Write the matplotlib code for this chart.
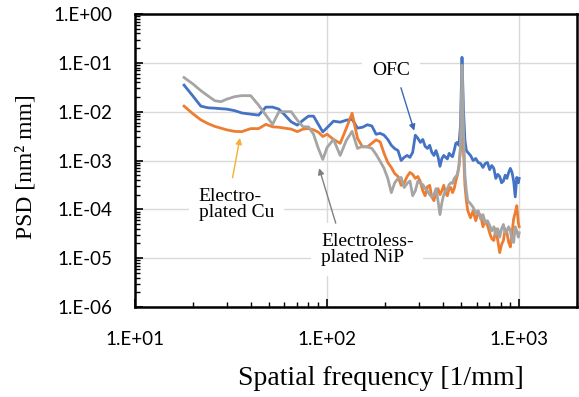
import math
import matplotlib
matplotlib.use("Agg")
import matplotlib.pyplot as plt
from matplotlib.ticker import LogLocator, FuncFormatter, NullFormatter

# spatial frequency [1/mm]
freq = [18, 20, 22, 24, 26, 28, 30, 33, 36, 40, 44, 48, 52, 56, 60, 65, 70, 75, 80, 85, 90, 95, 100,
        108, 117, 126, 135, 144, 153, 162, 171, 180, 189, 198, 207, 216, 225, 234, 243, 252, 261, 270,
        279, 288, 297, 306, 315, 324, 333, 342, 351, 360, 369, 378, 387, 396, 405, 414, 423, 432, 441,
        450, 459, 468, 477, 486, 495, 504, 513, 522, 531, 540, 558, 576, 594, 612, 630, 648, 666, 684,
        702, 720, 738, 756, 774, 792, 810, 828, 846, 864, 882, 900, 918, 936, 954, 972, 990, 1000]

# PSD [nm^2 mm]
psd_ofc = [3.5e-2, 2.1e-2, 1.3e-2, 1.2e-2, 1.18e-2, 1.15e-2, 1.13e-2, 1.05e-2, 9.4e-3, 8.9e-3, 8.5e-3,
           1.24e-2, 1.24e-2, 1.13e-2, 8.7e-3, 6.2e-3, 5.3e-3, 6.7e-3, 8.1e-3, 8.1e-3, 5.5e-3, 3.85e-3, 4.7e-3,
           6.4e-3, 6.1e-3, 6.7e-3, 7.0e-3, 4.6e-3, 4.8e-3, 5.4e-3, 5.1e-3, 3.45e-3, 3.6e-3, 3.3e-3, 2.7e-3,
           2.05e-3, 1.75e-3, 1.6e-3, 1.0e-3, 1.16e-3, 1.27e-3, 1.16e-3, 1.47e-3, 3.3e-3, 2.85e-3, 2.35e-3,
           2.7e-3, 1.95e-3, 1.77e-3, 2.05e-3, 1.47e-3, 1.27e-3, 1.6e-3, 1.2e-3, 7.6e-4, 1.1e-3, 1.27e-3,
           1.16e-3, 1.08e-3, 1.4e-3, 1.27e-3, 1.2e-3, 1.6e-3, 2.25e-3, 2.35e-3, 2.05e-3, 5.3e-3, 1.3e-1,
           1.07e-2, 2.6e-3, 1.6e-3, 1.47e-3, 1.27e-3, 1.0e-3, 1.1e-3, 9.1e-4, 8.7e-4, 7.2e-4, 8.7e-4, 9.1e-4,
           6.5e-4, 7.9e-4, 6.9e-4, 4.3e-4, 5.2e-4, 4.7e-4, 3.5e-4, 3.8e-4, 5.0e-4, 4.3e-4, 5.7e-4, 6.9e-4,
           5.7e-4, 3.8e-4, 1.8e-4, 4.5e-4, 3.5e-4, 4.3e-4]

psd_cu = [1.3e-2, 9.1e-3, 6.8e-3, 5.7e-3, 5.0e-3, 4.6e-3, 4.25e-3, 3.95e-3, 3.9e-3, 4.5e-3, 4.5e-3,
          5.5e-3, 4.9e-3, 4.8e-3, 4.6e-3, 4.4e-3, 3.9e-3, 4.4e-3, 4.5e-3, 4.25e-3, 3.8e-3, 3.1e-3, 3.45e-3,
          2.7e-3, 2.25e-3, 4.6e-3, 9.3e-3, 2.85e-3, 1.9e-3, 1.9e-3, 2.25e-3, 2.65e-3, 2.4e-3, 1.4e-3, 9.1e-4,
          7.2e-4, 5.4e-4, 4.7e-4, 3.1e-4, 3.5e-4, 4.7e-4, 5.7e-4, 5.2e-4, 4.3e-4, 4.7e-4, 3.7e-4,
          2.4e-4, 1.9e-4, 2.9e-4, 3.1e-4, 1.8e-4, 1.5e-4, 2.4e-4, 2.65e-4, 2.0e-4, 2.4e-4, 3.1e-4,
          2.1e-4, 1.9e-4, 2.65e-4, 2.8e-4, 2.2e-4, 2.65e-4, 3.8e-4, 5.0e-4, 7.9e-4, 1.6e-3, 2.8e-2,
          1.6e-3, 3.1e-4, 1.5e-4, 9.4e-5, 6.7e-5, 9.4e-5, 5.85e-5, 8.5e-5, 7.6e-5, 4.4e-5, 5.85e-5, 4.7e-5,
          3.3e-5, 2.5e-5, 2.3e-5, 4.0e-5, 2.3e-5, 1.3e-5, 1.9e-5, 2.3e-5, 4.0e-5, 3.3e-5, 2.1e-5, 1.7e-5,
          3.3e-5, 6.4e-5, 8.5e-5, 1.19e-4, 5.3e-5, 4.4e-5]

psd_nip = [5.0e-2, 3.7e-2, 2.7e-2, 2.1e-2, 1.68e-2, 1.6e-2, 1.8e-2, 2.03e-2, 2.13e-2, 2.13e-2, 1.36e-2,
           8.5e-3, 5.5e-3, 9.8e-3, 1.0e-2, 1.0e-2, 6.7e-3, 4.9e-3, 4.9e-3, 3.45e-3, 1.77e-3, 1.05e-3, 1.85e-3,
           2.7e-3, 1.27e-3, 2.6e-3, 3.95e-3, 1.77e-3, 1.95e-3, 1.9e-3, 1.77e-3, 1.33e-3, 9.6e-4, 6.9e-4, 4.3e-4,
           2.2e-4, 3.5e-4, 4.3e-4, 4.5e-4, 2.8e-4, 3.4e-4, 3.8e-4, 1.9e-4, 2.4e-4, 3.8e-4, 3.4e-4,
           3.2e-4, 2.65e-4, 2.4e-4, 2.0e-4, 1.8e-4, 2.0e-4, 2.65e-4, 1.5e-4, 7.8e-5, 1.37e-4, 2.0e-4,
           2.4e-4, 2.65e-4, 3.2e-4, 3.5e-4, 3.4e-4, 4.3e-4, 4.7e-4, 5.2e-4, 7.6e-4, 2.05e-3, 9.0e-2,
           4.2e-3, 5.0e-4, 2.4e-4, 1.5e-4, 1.3e-4, 1.1e-4, 8.5e-5, 9.4e-5, 6.4e-5, 7.8e-5, 5.3e-5, 5.85e-5,
           4.7e-5, 3.6e-5, 4.4e-5, 3.0e-5, 4.0e-5, 2.7e-5, 4.0e-5, 4.9e-5, 3.3e-5, 3.6e-5, 4.4e-5, 3.6e-5,
           2.3e-5, 2.1e-5, 4.4e-5, 3.6e-5, 2.7e-5, 3.3e-5]

fig = plt.figure(figsize=(5.79, 3.97), dpi=100)
ax = fig.add_axes([0.2332, 0.2267, 0.7633, 0.738])

ax.plot(freq, psd_ofc, color="#4472C4", lw=2)
ax.plot(freq, psd_cu, color="#ED7D31", lw=2)
ax.plot(freq, psd_nip, color="#A5A5A5", lw=2)

ax.set_xscale("log")
ax.set_yscale("log")
ax.set_xlim(10, 2000)
ax.set_ylim(1e-6, 1)

ax.xaxis.set_major_locator(LogLocator(base=10, numticks=10))
ax.yaxis.set_major_locator(LogLocator(base=10, numticks=10))
ax.xaxis.set_minor_locator(LogLocator(base=10, subs=range(2, 10), numticks=20))
ax.yaxis.set_minor_locator(LogLocator(base=10, subs=range(2, 10), numticks=20))
ax.xaxis.set_minor_formatter(NullFormatter())
ax.yaxis.set_minor_formatter(NullFormatter())

fmt = FuncFormatter(lambda v, p: "1.E%+03d" % round(math.log10(v)))
ax.xaxis.set_major_formatter(fmt)
ax.yaxis.set_major_formatter(fmt)

ax.grid(True, which="major", color="#d9d9d9", lw=1)
ax.set_axisbelow(True)
for s in ax.spines.values():
    s.set_linewidth(1.8)
    s.set_color("black")

ax.tick_params(which="major", direction="in", length=6, width=1.2)
ax.tick_params(which="minor", direction="in", length=3.5, width=1)
ax.tick_params(axis="y", which="major", pad=16)
ax.tick_params(axis="x", which="major", pad=17)
for lab in ax.get_xticklabels() + ax.get_yticklabels():
    lab.set_fontfamily("Lato")
    lab.set_fontsize(13.5)

ax.set_xlabel("Spatial frequency [1/mm]", fontfamily="Liberation Serif", fontsize=20)
ax.set_ylabel("PSD [nm² mm]", fontfamily="Liberation Serif", fontsize=17)
ax.xaxis.set_label_coords(0.557, -0.2)
ax.yaxis.set_label_coords(-0.222, 0.478)

box = dict(boxstyle="square,pad=0.5", fc="white", ec="none")
ax.text(215, 0.071, "OFC", fontfamily="Liberation Serif", fontsize=14,
        ha="center", va="center", bbox=box)
ax.annotate("", xy=(287, 3.6e-3), xytext=(240, 0.035),
            arrowprops=dict(arrowstyle="-|>", color="#3A68B8", lw=1, mutation_scale=9))

ax.text(21.5, 1.25e-4, "Electro-\nplated Cu", fontfamily="Liberation Serif", fontsize=14,
        ha="left", va="center", linespacing=0.95, bbox=box)
ax.annotate("", xy=(35.4, 3.3e-3), xytext=(32, 3.9e-4),
            arrowprops=dict(arrowstyle="-|>", color="#F4B030", lw=1, mutation_scale=9))

ax.text(93, 1.5e-5, "Electroless-\nplated NiP", fontfamily="Liberation Serif", fontsize=14,
        ha="left", va="center", linespacing=0.95, bbox=box)
ax.annotate("", xy=(90, 7.9e-4), xytext=(112, 4.6e-5),
            arrowprops=dict(arrowstyle="-|>", color="#808080", lw=1, mutation_scale=9))

fig.savefig("out.png", dpi=100, facecolor="white")
